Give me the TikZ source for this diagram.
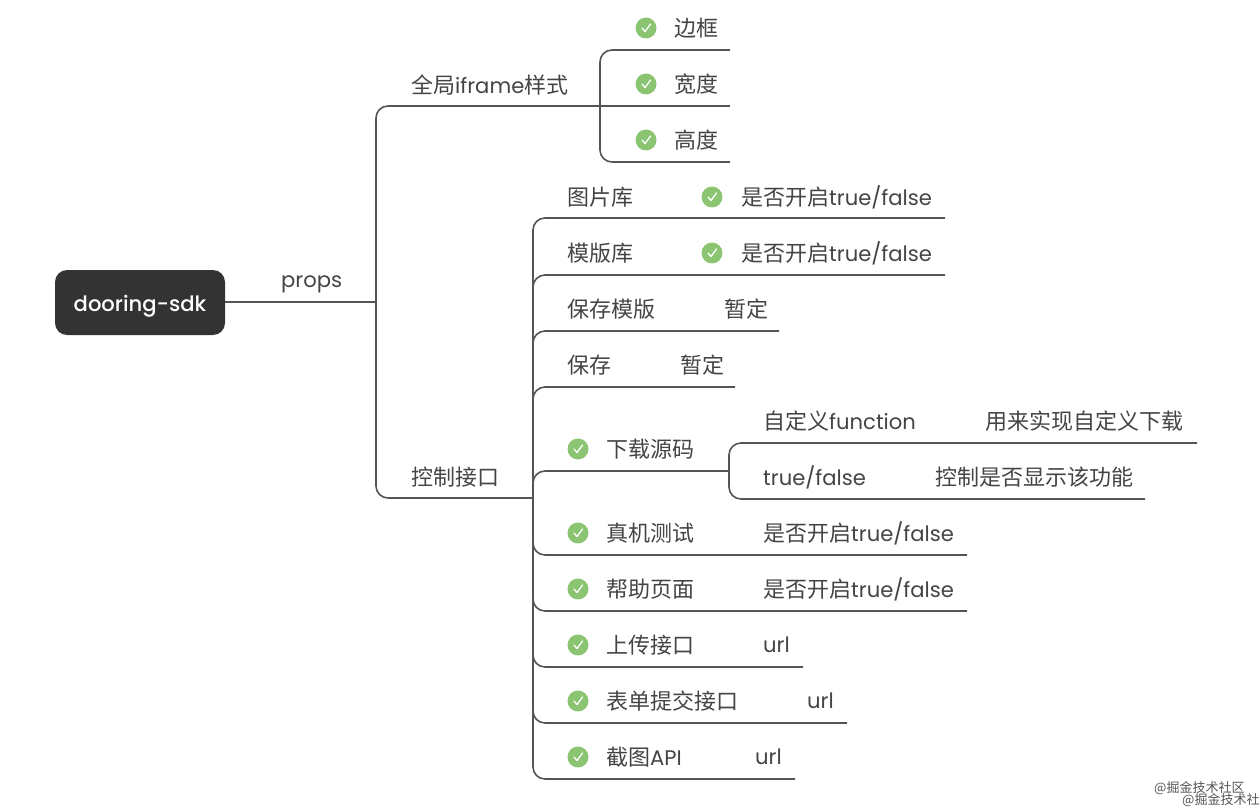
\documentclass[tikz,border=0pt]{standalone}
\usepackage{fontspec}
\setmainfont{Poppins}[Scale=0.96]
\newfontfamily\cjk{Noto Sans CJK SC}
\newfontfamily\rootfont{Poppins Medium}[Scale=0.96]
\newcommand{\zh}[1]{{\cjk #1}}
\definecolor{inkgray}{HTML}{444444}
\definecolor{linegray}{HTML}{555555}
\definecolor{rootgray}{HTML}{333333}
\definecolor{tickgreen}{HTML}{8CC572}
\definecolor{stampgray}{HTML}{555555}

\begin{document}
\begin{tikzpicture}[
        x=1pt, y=-1pt,
        topic/.style={anchor=west, inner sep=0pt, text=inkgray, font=\fontsize{22}{26}\selectfont},
        rootbox/.style={rectangle, rounded corners=12pt, fill=rootgray, minimum width=170pt, minimum height=65pt, text=white, text height=20pt, text depth=2pt, font=\fontsize{22}{26}\selectfont\rootfont},
        okmark/.style={circle, fill=tickgreen, minimum size=21pt, inner sep=0pt,
            path picture={\draw[white, line width=1.3pt, line cap=round, line join=round]
                ([shift={(-4pt,0pt)}]path picture bounding box.center) -- ([shift={(-1pt,-3.5pt)}]path picture bounding box.center) -- ([shift={(4.5pt,4pt)}]path picture bounding box.center);}},
        branch/.style={draw=linegray, line width=1.6pt},
        elbow/.style={branch, rounded corners=12pt},
        stamp/.style={anchor=west, inner sep=0pt, text=stampgray, font=\fontsize{13}{15}\selectfont\cjk}
    ]
        \useasboundingbox (0, 0) rectangle (1260, 810);

        % root and first level
        \node[rootbox] (sdk) at (140, 302.5) {dooring-sdk};
        \node[topic] (props) at (281, 284) {props};
        \coordinate (forkA) at (376, 302);
        \draw[branch] (sdk.east |- forkA) -- (forkA);

        \node[topic] (iframe) at (411, 85) {\zh{全局}iframe\zh{样式}};
        \node[topic] (ctrl) at (411, 477) {\zh{控制接口}};
        \coordinate (iframeEnd) at (600, 106);
        \coordinate (ctrlEnd) at (533, 498);
        \draw[elbow] (forkA) |- (iframeEnd);
        \draw[elbow] (forkA) |- (ctrlEnd);

        % iframe styles
        \node[okmark] (tickA) at (646, 28) {};
        \node[topic] (border) at (674, 28) {\zh{边框}};
        \node[okmark] (tickB) at (646, 84) {};
        \node[topic] (width) at (674, 84) {\zh{宽度}};
        \node[okmark] (tickC) at (646, 140) {};
        \node[topic] (height) at (674, 140) {\zh{高度}};
        \coordinate (borderEnd) at (730, 50);
        \coordinate (widthEnd) at (730, 106);
        \coordinate (heightEnd) at (730, 162);
        \draw[elbow] (iframeEnd) |- (borderEnd);
        \draw[branch] (iframeEnd) -- (widthEnd);
        \draw[elbow] (iframeEnd) |- (heightEnd);

        % control items
        \node[topic] (img) at (567, 197) {\zh{图片库}};
        \node[okmark] (tickImg) at (712, 197) {};
        \node[topic] (imgVal) at (741, 197) {\zh{是否开启}true/false};
        \node[topic] (tpl) at (567, 253) {\zh{模版库}};
        \node[okmark] (tickTpl) at (712, 253) {};
        \node[topic] (tplVal) at (741, 253) {\zh{是否开启}true/false};
        \node[topic] (saveTpl) at (567, 309) {\zh{保存模版}};
        \node[topic] (saveTplVal) at (724, 309) {\zh{暂定}};
        \node[topic] (save) at (567, 365) {\zh{保存}};
        \node[topic] (saveVal) at (680, 365) {\zh{暂定}};
        \node[okmark] (tickDown) at (578, 449) {};
        \node[topic] (down) at (606, 449) {\zh{下载源码}};
        \node[topic] (fn) at (763, 421) {\zh{自定义}function};
        \node[topic] (fnVal) at (985, 421) {\zh{用来实现自定义下载}};
        \node[topic] (bool) at (763, 477) {true/false};
        \node[topic] (boolVal) at (935, 477) {\zh{控制是否显示该功能}};
        \node[okmark] (tickTest) at (578, 533) {};
        \node[topic] (test) at (606, 533) {\zh{真机测试}};
        \node[topic] (testVal) at (763, 533) {\zh{是否开启}true/false};
        \node[okmark] (tickHelp) at (578, 589) {};
        \node[topic] (help) at (606, 589) {\zh{帮助页面}};
        \node[topic] (helpVal) at (763, 589) {\zh{是否开启}true/false};
        \node[okmark] (tickUp) at (578, 645) {};
        \node[topic] (up) at (606, 645) {\zh{上传接口}};
        \node[topic] (upVal) at (763, 645) {url};
        \node[okmark] (tickForm) at (578, 701) {};
        \node[topic] (form) at (606, 701) {\zh{表单提交接口}};
        \node[topic] (formVal) at (807, 701) {url};
        \node[okmark] (tickShot) at (578, 757) {};
        \node[topic] (shot) at (606, 757) {\zh{截图}API};
        \node[topic] (shotVal) at (755, 757) {url};

        \coordinate (imgEnd) at (945, 218);
        \coordinate (tplEnd) at (945, 275);
        \coordinate (saveTplEnd) at (779, 331);
        \coordinate (saveEnd) at (735, 387);
        \coordinate (downEnd) at (729, 471);
        \coordinate (testEnd) at (967, 555);
        \coordinate (helpEnd) at (967, 611);
        \coordinate (upEnd) at (803, 667);
        \coordinate (formEnd) at (847, 723);
        \coordinate (shotEnd) at (795, 779);
        \foreach \e in {imgEnd, tplEnd, saveTplEnd, saveEnd, downEnd, testEnd, helpEnd, upEnd, formEnd, shotEnd}
            \draw[elbow] (ctrlEnd) |- (\e);

        % download options
        \coordinate (fnEnd) at (1197, 443);
        \coordinate (boolEnd) at (1145, 499);
        \draw[elbow] (downEnd) |- (fnEnd);
        \draw[elbow] (downEnd) |- (boolEnd);

        % watermark
        \node[stamp] (stampA) at (1154, 788) {@掘金技术社区};
        \node[stamp] (stampB) at (1182, 800) {@掘金技术社};
    \end{tikzpicture}
\end{document}
